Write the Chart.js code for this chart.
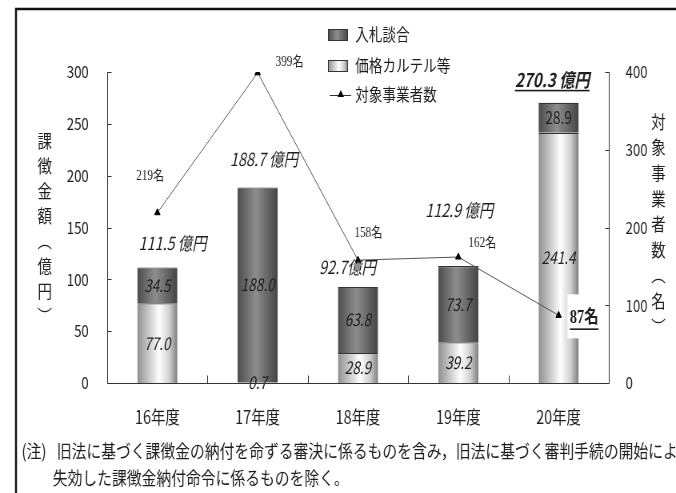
<!DOCTYPE html>
<html lang="ja">
<head>
<meta charset="utf-8">
<title>課徴金額の推移</title>
<script src="https://cdn.jsdelivr.net/npm/chart.js@4.4.0/dist/chart.umd.min.js"></script>
<style>
  html, body { margin: 0; padding: 0; background: #fff; overflow: hidden; }
  /* the figure is drawn 845 wide and squeezed to 676, which gives the narrow lettering */
  #wrap { width: 845px; height: 493px; transform: scaleX(0.8); transform-origin: 0 0; }
  canvas { display: block; }
</style>
</head>
<body>
<div id="wrap"><canvas id="fineChart" width="845" height="493"></canvas></div>
<script>
// Data
const years = ['16年度', '17年度', '18年度', '19年度', '20年度'];
const bidRigging = [34.5, 188.0, 63.8, 73.7, 28.9];    // 入札談合 (億円)
const priceCartel = [77.0, 0.7, 28.9, 39.2, 241.4];    // 価格カルテル等 (億円)
const companies = [219, 399, 158, 162, 87];            // 対象事業者数 (名)
const amountTicks = [0, 50, 100, 150, 200, 250, 300];
const companyTicks = [0, 100, 200, 300, 400];
const totalSuffix = [' 億円', ' 億円', '億円', ' 億円', ' 億円'];

const leftTitle = ['課', '徴', '金', '額', '︵', '億', '円', '︶'];
const rightTitle = ['対', '象', '事', '業', '者', '数', '︵', '名', '︶'];
const noteLines = [
    '旧法に基づく課徴金の納付を命ずる審決に係るものを含み，旧法に基づく審判手続の開始により',
    '失効した課徴金納付命令に係るものを除く。'
];

// label nudges in px
const totalOffsets = [[19, -24], [8, -28], [-13, -20], [1, -56], [-8, -23]];
const countOffsets = [[-9, -36], [40, -10], [13, -27], [30, -14], [32, 3]];

const SANS = '"Noto Sans CJK JP", "Noto Sans", sans-serif';
const SERIF = '"Liberation Serif", "Noto Sans CJK JP", serif';
const BAR_PCT = 0.4;

const darkStops = [[0, '#4c4c4c'], [0.45, '#8e8e8e'], [1, '#444444']];
const lightStops = [[0, '#8f8f8f'], [0.55, '#ffffff'], [0.8, '#d0d0d0'], [1, '#7c7c7c']];

function cylinder(stops) {
    return (c) => {
        const chart = c.chart;
        const xs = chart.scales.x;
        if (!chart.chartArea || !xs || c.dataIndex === undefined) return stops[1][1];
        const cx = xs.getPixelForValue(c.dataIndex);
        const half = (xs.width / years.length) * BAR_PCT / 2;
        const g = chart.ctx.createLinearGradient(cx - half, 0, cx + half, 0);
        stops.forEach(([o, col]) => g.addColorStop(o, col));
        return g;
    };
}

function boxGradient(ctx, x, w, stops) {
    const g = ctx.createLinearGradient(x, 0, x + w, 0);
    stops.forEach(([o, col]) => g.addColorStop(o, col));
    return g;
}

function underlined(ctx, text, x, y, font, align) {
    ctx.font = font;
    ctx.textAlign = align;
    ctx.fillText(text, x, y);
    const w = ctx.measureText(text).width;
    const x0 = align === 'center' ? x - w / 2 : x;
    ctx.fillRect(x0, y + 10, w, 1.6);
}

const decor = {
    id: 'decor',
    beforeDraw(chart) {
        const ctx = chart.ctx;
        ctx.save();
        ctx.fillStyle = '#fff';
        ctx.fillRect(0, 0, chart.width, chart.height);
        ctx.restore();
    },
    afterDatasetsDraw(chart) {
        const ctx = chart.ctx;
        const lowMeta = chart.getDatasetMeta(1);
        const topMeta = chart.getDatasetMeta(2);
        const lineMeta = chart.getDatasetMeta(0);
        ctx.save();
        ctx.textBaseline = 'middle';
        ctx.fillStyle = '#1e1e1e';

        // values inside each segment
        [[lowMeta, priceCartel], [topMeta, bidRigging]].forEach(([meta, vals], k) => {
            meta.data.forEach((bar, i) => {
                const upright = k === 1 && i === 4;
                ctx.font = (upright ? '' : 'italic ') + '17px ' + SANS;
                ctx.textAlign = 'center';
                ctx.fillText(vals[i].toFixed(1), bar.x, (bar.y + bar.base) / 2);
            });
        });

        // totals above the bars
        topMeta.data.forEach((bar, i) => {
            const txt = (bidRigging[i] + priceCartel[i]).toFixed(1) + totalSuffix[i];
            const [dx, dy] = totalOffsets[i];
            if (i === years.length - 1) {
                underlined(ctx, txt, bar.x + dx, bar.y + dy, 'italic bold 19px ' + SANS, 'center');
            } else {
                ctx.font = 'italic 18px ' + SANS;
                ctx.textAlign = 'center';
                ctx.fillText(txt, bar.x + dx, bar.y + dy);
            }
        });

        // company counts next to the line points
        lineMeta.data.forEach((pt, i) => {
            const [dx, dy] = countOffsets[i];
            const txt = companies[i] + '名';
            if (i === companies.length - 1) {
                ctx.fillStyle = '#fff';
                ctx.fillRect(pt.x + 11, pt.y - 21, 50, 44);
                ctx.fillStyle = '#1e1e1e';
                underlined(ctx, txt, pt.x + dx, pt.y + dy, 'bold 18px ' + SERIF, 'center');
            } else {
                ctx.font = '14px ' + SERIF;
                ctx.textAlign = 'center';
                ctx.fillText(txt, pt.x + dx, pt.y + dy);
            }
        });
        ctx.restore();
    },
    afterDraw(chart) {
        const ctx = chart.ctx;
        const { x: xs, y: ys, y1: rs } = chart.scales;
        const area = chart.chartArea;
        const left = Math.round(area.left) + 0.5;
        const right = Math.round(area.right) + 0.5;
        const bottom = Math.round(ys.getPixelForValue(0)) + 0.5;
        const top = ys.getPixelForValue(amountTicks[amountTicks.length - 1]);

        ctx.save();
        ctx.strokeStyle = '#333';
        ctx.lineWidth = 1;
        ctx.beginPath();
        // axes
        ctx.moveTo(left, top); ctx.lineTo(left, bottom);
        ctx.moveTo(right, top); ctx.lineTo(right, bottom);
        ctx.moveTo(left, bottom); ctx.lineTo(right, bottom);
        // inward ticks
        ys.ticks.forEach(t => {
            const py = Math.round(ys.getPixelForValue(t.value)) + 0.5;
            ctx.moveTo(left, py); ctx.lineTo(left + 5, py);
        });
        rs.ticks.forEach(t => {
            const py = Math.round(rs.getPixelForValue(t.value)) + 0.5;
            ctx.moveTo(right, py); ctx.lineTo(right - 5, py);
        });
        for (let i = 1; i < years.length; i++) {
            const px = Math.round((xs.getPixelForValue(i - 1) + xs.getPixelForValue(i)) / 2) + 0.5;
            ctx.moveTo(px, bottom); ctx.lineTo(px, bottom - 8);
        }
        ctx.stroke();

        // vertical axis titles
        ctx.fillStyle = '#1e1e1e';
        ctx.font = '18px ' + SANS;
        ctx.textAlign = 'center';
        ctx.textBaseline = 'middle';
        leftTitle.forEach((ch, i) => ctx.fillText(ch, 56, 141 + i * 25));
        rightTitle.forEach((ch, i) => ctx.fillText(ch, 823, 122 + i * 25.6));

        // legend
        ctx.font = '17px ' + SANS;
        ctx.textAlign = 'left';
        const lx = 410, lw = 25, lh = 12;
        [[35, darkStops, '入札談合'], [66, lightStops, '価格カルテル等']].forEach(([cy, stops, txt]) => {
            ctx.fillStyle = boxGradient(ctx, lx, lw, stops);
            ctx.fillRect(lx, cy - lh / 2, lw, lh);
            ctx.strokeStyle = '#333';
            ctx.strokeRect(lx + 0.5, cy - lh / 2 + 0.5, lw - 1, lh - 1);
            ctx.fillStyle = '#1e1e1e';
            ctx.fillText(txt, lx + 34, cy);
        });
        ctx.strokeStyle = '#333';
        ctx.beginPath();
        ctx.moveTo(lx + 2, 95.5); ctx.lineTo(lx + lw + 4, 95.5);
        ctx.stroke();
        ctx.fillStyle = '#000';
        ctx.beginPath();
        ctx.moveTo(lx + 16, 90); ctx.lineTo(lx + 20, 97); ctx.lineTo(lx + 12, 97);
        ctx.closePath(); ctx.fill();
        ctx.fillStyle = '#1e1e1e';
        ctx.fillText('対象事業者数', lx + 34, 95);

        // note under the chart
        ctx.font = '18.5px ' + SANS;
        ctx.fillText('(注)', 27, 451);
        ctx.fillText(noteLines[0], 71, 451);
        ctx.fillText(noteLines[1], 66, 478);

        // frame
        ctx.strokeStyle = '#111';
        ctx.lineWidth = 2.5;
        ctx.beginPath();
        ctx.moveTo(845, 9); ctx.lineTo(20, 9); ctx.lineTo(20, 493);
        ctx.stroke();
        ctx.restore();
    }
};

Chart.defaults.font.family = SANS;
Chart.defaults.color = '#1e1e1e';

new Chart(document.getElementById('fineChart'), {
    data: {
        labels: years,
        datasets: [
            {
                type: 'line',
                label: '対象事業者数',
                data: companies,
                yAxisID: 'y1',
                borderColor: '#555',
                borderWidth: 1,
                tension: 0,
                pointStyle: 'triangle',
                pointRadius: 4,
                pointBackgroundColor: '#000',
                pointBorderColor: '#000',
                pointBorderWidth: 1,
                order: 0
            },
            {
                type: 'bar',
                label: '価格カルテル等',
                data: priceCartel,
                stack: 'fine',
                backgroundColor: cylinder(lightStops),
                borderColor: '#333',
                borderWidth: { top: 1.2, left: 0, right: 0, bottom: 0 },
                borderSkipped: false,
                barPercentage: BAR_PCT,
                categoryPercentage: 1,
                order: 1
            },
            {
                type: 'bar',
                label: '入札談合',
                data: bidRigging,
                stack: 'fine',
                backgroundColor: cylinder(darkStops),
                borderColor: '#333',
                borderWidth: { top: 1.2, left: 0, right: 0, bottom: 0 },
                borderSkipped: false,
                barPercentage: BAR_PCT,
                categoryPercentage: 1,
                order: 1
            }
        ]
    },
    options: {
        responsive: false,
        animation: false,
        layout: { padding: { top: 72, left: 0, right: 0, bottom: 0 } },
        plugins: { legend: { display: false }, tooltip: { enabled: false } },
        scales: {
            x: {
                stacked: true,
                grid: { display: false },
                border: { display: false },
                ticks: { font: { size: 18 }, padding: 15 },
                afterFit: s => { s.height = 110; }
            },
            y: {
                stacked: true,
                position: 'left',
                min: amountTicks[0],
                max: amountTicks[amountTicks.length - 1],
                grid: { display: false },
                border: { display: false },
                ticks: { font: { size: 16.5 }, padding: 15 },
                afterBuildTicks: s => { s.ticks = amountTicks.map(v => ({ value: v })); },
                afterFit: s => { s.width = 134; }
            },
            y1: {
                position: 'right',
                min: companyTicks[0],
                max: companyTicks[companyTicks.length - 1],
                grid: { display: false },
                border: { display: false },
                ticks: { font: { size: 16.5 }, padding: 13 },
                afterBuildTicks: s => { s.ticks = companyTicks.map(v => ({ value: v })); },
                afterFit: s => { s.width = 84; }
            }
        }
    },
    plugins: [decor]
});
</script>
</body>
</html>
